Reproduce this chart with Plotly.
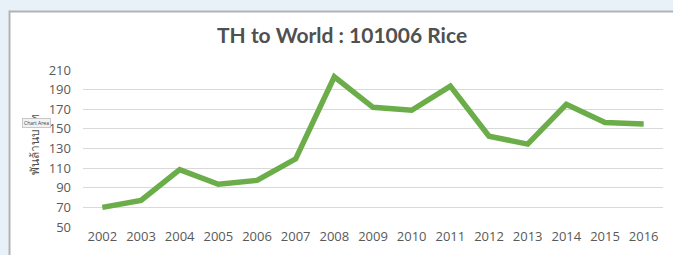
import plotly.graph_objects as go

years = [2002, 2003, 2004, 2005, 2006, 2007, 2008, 2009, 2010, 2011, 2012, 2013, 2014, 2015, 2016]
values = [70, 77, 108.5, 93.5, 97.5, 119.5, 203, 172, 169, 193.5, 142.5, 134.5, 175, 156.5, 155]
y_ticks = [50, 70, 90, 110, 130, 150, 170, 190, 210]

title_text = "TH to World : 101006 Rice"
y_title = "พันล้านบาท"
tooltip_text = "Chart Area"

fig = go.Figure()
fig.add_trace(go.Scatter(
    x=years, y=values, mode="lines",
    line=dict(color="#6BAD48", width=5.5),
    hoverinfo="skip",
))

L, R, T, B = 83, 10, 70, 28
W, H = 673, 255
pw = W - L - R
ph = H - T - B

def px(p):
    return (p - L) / pw

def py(p):
    return (H - B - p) / ph

bg = "#E8F0F8"
border = "#AEB2B5"
fig.update_layout(
    width=W, height=H,
    margin=dict(l=L, r=R, t=T, b=B),
    paper_bgcolor="white",
    plot_bgcolor="rgba(0,0,0,0)",
    showlegend=False,
    font=dict(family="Open Sans, Noto Sans, sans-serif", color="#595959", size=13),
    shapes=[
        dict(type="rect", xref="paper", yref="paper", layer="below",
             x0=px(-2), x1=px(W + 2), y0=py(10.5), y1=py(-2),
             fillcolor=bg, line=dict(width=0)),
        dict(type="rect", xref="paper", yref="paper", layer="below",
             x0=px(-2), x1=px(8.5), y0=py(H + 2), y1=py(-2),
             fillcolor=bg, line=dict(width=0)),
        dict(type="line", xref="paper", yref="paper", layer="below",
             x0=px(9.5), x1=px(W + 2), y0=py(11.5), y1=py(11.5),
             line=dict(color=border, width=2)),
        dict(type="line", xref="paper", yref="paper", layer="below",
             x0=px(9.5), x1=px(9.5), y0=py(10.5), y1=py(H + 2),
             line=dict(color=border, width=2)),
    ],
    annotations=[
        dict(text="<b>" + title_text + "</b>", xref="paper", yref="paper",
             x=px(342), y=py(34), xanchor="center", yanchor="middle",
             showarrow=False, font=dict(size=21, color="#505050",
                                        family="Lato, Open Sans, sans-serif")),
        dict(text=y_title, xref="paper", yref="paper", textangle=-90,
             x=px(34), y=py(145), xanchor="center", yanchor="middle",
             showarrow=False, font=dict(size=12, color="#505050",
                                        family="Noto Sans, sans-serif")),
        dict(text=tooltip_text, xref="paper", yref="paper",
             x=px(36), y=py(122.5), xanchor="center", yanchor="middle",
             showarrow=False, bgcolor="#F2F2F2", bordercolor="#C8C8C8",
             borderwidth=1, borderpad=1,
             font=dict(size=5, color="#404040", family="Open Sans, sans-serif")),
    ],
    xaxis=dict(
        range=[2001.5, 2016.5], tickmode="array", tickvals=years,
        ticktext=[str(y) for y in years], showgrid=False, zeroline=False,
        showline=False, ticks="", tickfont=dict(size=13, color="#595959"),
        fixedrange=True,
    ),
    yaxis=dict(
        range=[50, 210], tickmode="array", tickvals=y_ticks,
        showgrid=True, gridcolor="#D9D9D9", gridwidth=1, zeroline=False,
        showline=False, ticks="", ticklabelstandoff=11,
        tickfont=dict(size=13, color="#595959"), fixedrange=True,
    ),
)

post_js = (
    "var s=document.createElement('style');"
    "s.textContent='html,body{margin:0;padding:0;overflow:hidden;scrollbar-width:none;background:#fff;}"
    "::-webkit-scrollbar{display:none;width:0;height:0;}';"
    "document.head.appendChild(s);"
)

fig.write_html("out.html", config={"displayModeBar": False}, post_script=post_js)
